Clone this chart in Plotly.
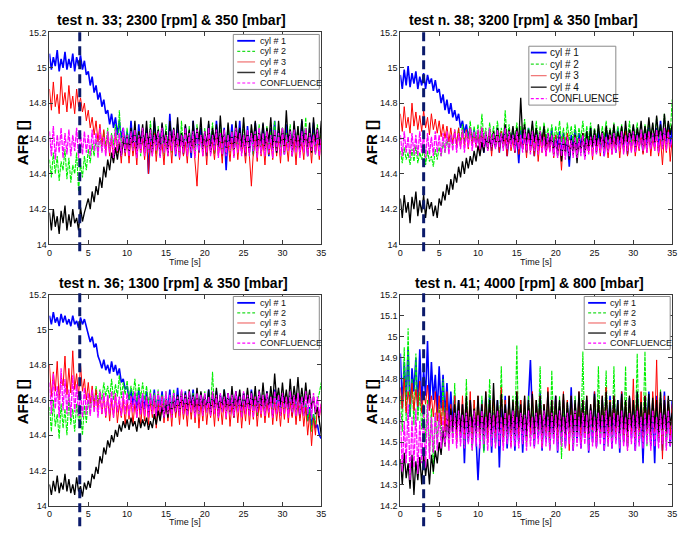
import plotly.graph_objects as go

# ---------------------------------------------------------------------------
# AFR per cylinder and at the confluence, sampled every 0.25 s over 0..35 s
# ---------------------------------------------------------------------------
TIME = [0.25 * i for i in range(141)]

# test n. 33 ; 2300 rpm & 350 mbar
T33_CYL1 = [
    15.08, 14.99, 15.06, 15.01, 15.10, 14.98, 15.05, 15.00, 15.09, 14.99,
    15.05, 15.00, 15.08, 14.98, 15.06, 15.01, 15.07, 14.99, 15.04, 14.96,
    14.98, 14.90, 14.95, 14.86, 14.90, 14.82, 14.86, 14.78, 14.82, 14.74,
    14.76, 14.68, 14.74, 14.66, 14.72, 14.62, 14.70, 14.60, 14.66, 14.56,
    14.64, 14.52, 14.70, 14.55, 14.66, 14.50, 14.68, 14.54, 14.62, 14.52,
    14.66, 14.40, 14.62, 14.53, 14.70, 14.55, 14.64, 14.50, 14.68, 14.56,
    14.62, 14.52, 14.74, 14.55, 14.65, 14.50, 14.68, 14.54, 14.63, 14.51,
    14.67, 14.55, 14.62, 14.49, 14.70, 14.56, 14.64, 14.52, 14.66, 14.55,
    14.62, 14.50, 14.68, 14.54, 14.65, 14.52, 14.70, 14.56, 14.61, 14.50,
    14.66, 14.42, 14.63, 14.55, 14.68, 14.52, 14.64, 14.55, 14.70, 14.53,
    14.62, 14.50, 14.67, 14.54, 14.64, 14.51, 14.69, 14.56, 14.63, 14.52,
    14.68, 14.55, 14.62, 14.50, 14.66, 14.54, 14.70, 14.52, 14.64, 14.56,
    14.63, 14.51, 14.68, 14.55, 14.65, 14.50, 14.67, 14.54, 14.62, 14.53,
    14.70, 14.55, 14.64, 14.50, 14.66, 14.56, 14.69, 14.52, 14.65, 14.55,
    14.62]
T33_CYL2 = [
    14.48, 14.38, 14.52, 14.40, 14.50, 14.36, 14.47, 14.42, 14.54, 14.37,
    14.49, 14.35, 14.45, 14.40, 14.52, 14.30, 14.46, 14.38, 14.50, 14.42,
    14.54, 14.46, 14.57, 14.50, 14.60, 14.52, 14.62, 14.53, 14.64, 14.55,
    14.66, 14.54, 14.63, 14.56, 14.68, 14.52, 14.76, 14.55, 14.64, 14.53,
    14.66, 14.55, 14.62, 14.52, 14.68, 14.56, 14.64, 14.50, 14.66, 14.55,
    14.62, 14.52, 14.70, 14.56, 14.64, 14.51, 14.67, 14.55, 14.63, 14.50,
    14.68, 14.55, 14.64, 14.52, 14.66, 14.56, 14.62, 14.50, 14.70, 14.54,
    14.63, 14.55, 14.67, 14.52, 14.64, 14.50, 14.68, 14.56, 14.62, 14.53,
    14.66, 14.52, 14.64, 14.56, 14.69, 14.51, 14.63, 14.55, 14.67, 14.53,
    14.62, 14.56, 14.68, 14.52, 14.64, 14.50, 14.66, 14.55, 14.63, 14.52,
    14.69, 14.55, 14.62, 14.53, 14.66, 14.50, 14.64, 14.56, 14.68, 14.52,
    14.63, 14.55, 14.67, 14.51, 14.64, 14.56, 14.70, 14.53, 14.62, 14.55,
    14.66, 14.52, 14.63, 14.56, 14.68, 14.50, 14.64, 14.55, 14.67, 14.53,
    14.62, 14.56, 14.72, 14.52, 14.65, 14.55, 14.63, 14.51, 14.68, 14.56,
    14.64]
T33_CYL3 = [
    14.88, 14.76, 14.92, 14.78, 14.85, 14.74, 14.95, 14.79, 14.86, 14.75,
    14.90, 14.77, 14.84, 14.74, 14.88, 14.78, 14.83, 14.75, 14.80, 14.70,
    14.76, 14.66, 14.72, 14.62, 14.70, 14.58, 14.68, 14.56, 14.65, 14.52,
    14.62, 14.50, 14.60, 14.47, 14.63, 14.52, 14.58, 14.46, 14.61, 14.50,
    14.60, 14.46, 14.62, 14.50, 14.58, 14.45, 14.64, 14.52, 14.60, 14.48,
    14.62, 14.40, 14.58, 14.50, 14.63, 14.47, 14.60, 14.52, 14.57, 14.45,
    14.62, 14.50, 14.60, 14.46, 14.64, 14.52, 14.58, 14.48, 14.61, 14.50,
    14.58, 14.46, 14.62, 14.52, 14.60, 14.47, 14.33, 14.55, 14.62, 14.50,
    14.60, 14.45, 14.63, 14.51, 14.58, 14.48, 14.62, 14.50, 14.59, 14.46,
    14.63, 14.52, 14.58, 14.47, 14.61, 14.50, 14.64, 14.48, 14.60, 14.52,
    14.58, 14.46, 14.62, 14.50, 14.33, 14.52, 14.60, 14.47, 14.63, 14.50,
    14.59, 14.45, 14.62, 14.51, 14.58, 14.48, 14.64, 14.50, 14.60, 14.46,
    14.62, 14.52, 14.58, 14.47, 14.63, 14.50, 14.60, 14.45, 14.62, 14.51,
    14.58, 14.48, 14.64, 14.50, 14.60, 14.46, 14.62, 14.52, 14.59, 14.48,
    14.62]
T33_CYL4 = [
    14.18, 14.08, 14.20, 14.10, 14.16, 14.06, 14.19, 14.12, 14.22, 14.08,
    14.17, 14.10, 14.20, 14.12, 14.15, 14.08, 14.21, 14.13, 14.18, 14.22,
    14.26, 14.20, 14.30, 14.24, 14.33, 14.28, 14.38, 14.32, 14.44, 14.38,
    14.48, 14.42, 14.52, 14.46, 14.55, 14.48, 14.57, 14.50, 14.60, 14.52,
    14.62, 14.52, 14.66, 14.55, 14.70, 14.54, 14.64, 14.58, 14.68, 14.55,
    14.70, 14.56, 14.66, 14.52, 14.72, 14.58, 14.65, 14.54, 14.69, 14.57,
    14.64, 14.52, 14.70, 14.58, 14.66, 14.55, 14.72, 14.56, 14.63, 14.54,
    14.68, 14.57, 14.65, 14.52, 14.70, 14.55, 14.66, 14.58, 14.72, 14.54,
    14.64, 14.56, 14.70, 14.52, 14.66, 14.58, 14.68, 14.55, 14.73, 14.57,
    14.65, 14.52, 14.69, 14.56, 14.64, 14.54, 14.70, 14.58, 14.66, 14.55,
    14.72, 14.56, 14.64, 14.52, 14.68, 14.58, 14.70, 14.55, 14.65, 14.57,
    14.69, 14.54, 14.66, 14.58, 14.72, 14.55, 14.64, 14.52, 14.70, 14.57,
    14.66, 14.55, 14.76, 14.58, 14.65, 14.53, 14.70, 14.56, 14.67, 14.54,
    14.71, 14.57, 14.65, 14.55, 14.69, 14.52, 14.72, 14.58, 14.66, 14.56,
    14.70]
T33_CONF = [
    14.64, 14.50, 14.67, 14.48, 14.62, 14.52, 14.66, 14.49, 14.63, 14.51,
    14.65, 14.50, 14.62, 14.53, 14.66, 14.49, 14.63, 14.51, 14.64, 14.52,
    14.62, 14.50, 14.65, 14.53, 14.63, 14.49, 14.66, 14.52, 14.61, 14.50,
    14.64, 14.52, 14.62, 14.49, 14.65, 14.53, 14.63, 14.50, 14.66, 14.52,
    14.62, 14.50, 14.64, 14.53, 14.65, 14.49, 14.62, 14.52, 14.66, 14.50,
    14.63, 14.52, 14.65, 14.50, 14.62, 14.53, 14.64, 14.49, 14.66, 14.52,
    14.62, 14.50, 14.64, 14.53, 14.65, 14.51, 14.63, 14.49, 14.62, 14.52,
    14.66, 14.50, 14.63, 14.52, 14.64, 14.49, 14.65, 14.53, 14.62, 14.50,
    14.64, 14.52, 14.66, 14.50, 14.62, 14.53, 14.65, 14.49, 14.63, 14.51,
    14.65, 14.50, 14.62, 14.53, 14.64, 14.49, 14.66, 14.52, 14.63, 14.50,
    14.62, 14.52, 14.65, 14.50, 14.63, 14.53, 14.64, 14.49, 14.66, 14.51,
    14.63, 14.50, 14.64, 14.52, 14.62, 14.49, 14.65, 14.53, 14.63, 14.50,
    14.66, 14.51, 14.62, 14.53, 14.64, 14.50, 14.65, 14.52, 14.62, 14.49,
    14.64, 14.52, 14.66, 14.50, 14.63, 14.53, 14.62, 14.51, 14.65, 14.50,
    14.60]

# test n. 38 ; 3200 rpm & 350 mbar
T38_CYL1 = [
    14.96, 14.88, 14.99, 14.90, 15.01, 14.89, 14.97, 14.91, 14.98, 14.88,
    14.95, 14.90, 14.97, 14.88, 14.96, 14.91, 14.94, 14.87, 14.93, 14.86,
    14.88, 14.80, 14.85, 14.76, 14.82, 14.74, 14.80, 14.72, 14.76, 14.70,
    14.74, 14.66, 14.70, 14.63, 14.68, 14.60, 14.66, 14.58, 14.65, 14.56,
    14.64, 14.55, 14.66, 14.52, 14.63, 14.56, 14.65, 14.53, 14.62, 14.55,
    14.66, 14.52, 14.63, 14.55, 14.67, 14.50, 14.62, 14.56, 14.64, 14.52,
    14.62, 14.46, 14.65, 14.54, 14.63, 14.52, 14.66, 14.55, 14.62, 14.50,
    14.64, 14.53, 14.62, 14.56, 14.65, 14.52, 14.63, 14.54, 14.66, 14.51,
    14.62, 14.55, 14.64, 14.50, 14.63, 14.53, 14.61, 14.44, 14.62, 14.54,
    14.65, 14.52, 14.63, 14.55, 14.62, 14.50, 14.64, 14.53, 14.66, 14.55,
    14.62, 14.52, 14.64, 14.55, 14.63, 14.50, 14.65, 14.53, 14.62, 14.56,
    14.64, 14.52, 14.66, 14.54, 14.62, 14.55, 14.65, 14.51, 14.63, 14.56,
    14.66, 14.53, 14.64, 14.56, 14.62, 14.52, 14.65, 14.55, 14.67, 14.54,
    14.63, 14.56, 14.66, 14.53, 14.70, 14.55, 14.64, 14.57, 14.68, 14.56,
    14.66]
T38_CYL2 = [
    14.53, 14.46, 14.55, 14.48, 14.52, 14.45, 14.54, 14.47, 14.56, 14.46,
    14.52, 14.48, 14.55, 14.45, 14.53, 14.47, 14.50, 14.44, 14.54, 14.48,
    14.55, 14.50, 14.58, 14.52, 14.60, 14.54, 14.62, 14.56, 14.64, 14.57,
    14.66, 14.57, 14.68, 14.58, 14.65, 14.60, 14.70, 14.57, 14.67, 14.59,
    14.68, 14.58, 14.74, 14.60, 14.66, 14.57, 14.69, 14.59, 14.67, 14.58,
    14.70, 14.60, 14.66, 14.57, 14.76, 14.59, 14.68, 14.58, 14.66, 14.60,
    14.69, 14.57, 14.67, 14.60, 14.71, 14.58, 14.66, 14.59, 14.68, 14.57,
    14.70, 14.59, 14.67, 14.57, 14.69, 14.60, 14.66, 14.58, 14.68, 14.57,
    14.67, 14.60, 14.70, 14.58, 14.66, 14.57, 14.69, 14.59, 14.67, 14.58,
    14.68, 14.57, 14.66, 14.60, 14.70, 14.58, 14.67, 14.59, 14.69, 14.57,
    14.66, 14.59, 14.68, 14.57, 14.67, 14.60, 14.70, 14.58, 14.66, 14.59,
    14.69, 14.57, 14.67, 14.60, 14.68, 14.58, 14.66, 14.59, 14.70, 14.57,
    14.67, 14.60, 14.69, 14.58, 14.66, 14.57, 14.68, 14.60, 14.70, 14.58,
    14.68, 14.59, 14.72, 14.60, 14.67, 14.58, 14.74, 14.60, 14.69, 14.62,
    14.82]
T38_CYL3 = [
    14.74, 14.64, 14.78, 14.66, 14.72, 14.63, 14.80, 14.67, 14.75, 14.65,
    14.73, 14.64, 14.76, 14.66, 14.72, 14.62, 14.74, 14.65, 14.71, 14.63,
    14.70, 14.61, 14.68, 14.60, 14.67, 14.58, 14.66, 14.57, 14.65, 14.56,
    14.66, 14.55, 14.64, 14.56, 14.65, 14.54, 14.66, 14.57, 14.63, 14.55,
    14.64, 14.52, 14.66, 14.55, 14.62, 14.53, 14.65, 14.50, 14.63, 14.55,
    14.62, 14.52, 14.64, 14.55, 14.61, 14.50, 14.63, 14.53, 14.60, 14.52,
    14.63, 14.51, 14.60, 14.54, 14.62, 14.49, 14.64, 14.52, 14.60, 14.50,
    14.62, 14.47, 14.60, 14.52, 14.63, 14.50, 14.59, 14.53, 14.61, 14.49,
    14.62, 14.52, 14.58, 14.42, 14.61, 14.50, 14.63, 14.53, 14.59, 14.51,
    14.62, 14.49, 14.60, 14.53, 14.63, 14.50, 14.58, 14.52, 14.61, 14.48,
    14.63, 14.52, 14.60, 14.50, 14.62, 14.53, 14.59, 14.49, 14.62, 14.51,
    14.60, 14.53, 14.63, 14.49, 14.61, 14.52, 14.64, 14.50, 14.60, 14.53,
    14.62, 14.50, 14.59, 14.53, 14.63, 14.51, 14.60, 14.52, 14.64, 14.50,
    14.61, 14.53, 14.63, 14.50, 14.60, 14.45, 14.62, 14.52, 14.65, 14.47,
    14.60]
T38_CYL4 = [
    14.26, 14.15, 14.28, 14.18, 14.24, 14.12, 14.27, 14.20, 14.30, 14.16,
    14.25, 14.18, 14.28, 14.15, 14.26, 14.20, 14.24, 14.16, 14.22, 14.15,
    14.26, 14.22, 14.30, 14.25, 14.34, 14.28, 14.37, 14.31, 14.40, 14.35,
    14.44, 14.38, 14.47, 14.40, 14.49, 14.43, 14.50, 14.45, 14.53, 14.47,
    14.56, 14.50, 14.58, 14.52, 14.62, 14.54, 14.60, 14.55, 14.64, 14.56,
    14.66, 14.56, 14.63, 14.58, 14.68, 14.56, 14.65, 14.59, 14.67, 14.57,
    14.66, 14.58, 14.83, 14.60, 14.68, 14.57, 14.65, 14.59, 14.70, 14.58,
    14.66, 14.57, 14.64, 14.59, 14.67, 14.55, 14.63, 14.56, 14.62, 14.53,
    14.60, 14.50, 14.62, 14.47, 14.58, 14.52, 14.61, 14.48, 14.60, 14.51,
    14.62, 14.46, 14.60, 14.52, 14.63, 14.50, 14.64, 14.54, 14.66, 14.55,
    14.65, 14.56, 14.68, 14.58, 14.64, 14.55, 14.67, 14.59, 14.65, 14.57,
    14.68, 14.56, 14.64, 14.59, 14.67, 14.57, 14.70, 14.58, 14.65, 14.60,
    14.68, 14.57, 14.66, 14.60, 14.70, 14.58, 14.67, 14.59, 14.72, 14.60,
    14.69, 14.58, 14.73, 14.61, 14.68, 14.59, 14.74, 14.60, 14.70, 14.62,
    14.68]
T38_CONF = [
    14.62, 14.50, 14.64, 14.52, 14.61, 14.49, 14.63, 14.51, 14.62, 14.50,
    14.64, 14.52, 14.62, 14.49, 14.63, 14.51, 14.61, 14.50, 14.64, 14.52,
    14.62, 14.50, 14.63, 14.52, 14.64, 14.51, 14.62, 14.53, 14.65, 14.52,
    14.63, 14.54, 14.65, 14.52, 14.64, 14.55, 14.66, 14.53, 14.64, 14.55,
    14.65, 14.54, 14.66, 14.55, 14.64, 14.53, 14.66, 14.55, 14.63, 14.54,
    14.65, 14.55, 14.63, 14.53, 14.66, 14.54, 14.64, 14.55, 14.62, 14.53,
    14.64, 14.54, 14.62, 14.52, 14.65, 14.53, 14.63, 14.51, 14.64, 14.53,
    14.62, 14.51, 14.64, 14.52, 14.61, 14.50, 14.63, 14.52, 14.62, 14.50,
    14.60, 14.49, 14.62, 14.50, 14.60, 14.48, 14.61, 14.50, 14.59, 14.49,
    14.61, 14.49, 14.60, 14.50, 14.62, 14.48, 14.60, 14.51, 14.61, 14.50,
    14.62, 14.51, 14.60, 14.52, 14.63, 14.50, 14.61, 14.52, 14.62, 14.51,
    14.63, 14.52, 14.61, 14.53, 14.64, 14.51, 14.62, 14.53, 14.63, 14.52,
    14.64, 14.52, 14.62, 14.54, 14.65, 14.53, 14.63, 14.52, 14.64, 14.54,
    14.63, 14.53, 14.65, 14.52, 14.64, 14.54, 14.66, 14.53, 14.64, 14.55,
    14.60]

# test n. 36 ; 1300 rpm & 350 mbar
T36_CYL1 = [
    15.08, 15.03, 15.10, 15.04, 15.07, 15.02, 15.09, 15.04, 15.08, 15.03,
    15.06, 15.02, 15.08, 15.03, 15.05, 15.01, 15.07, 15.03, 15.06, 15.02,
    14.98, 14.93, 14.96, 14.90, 14.92, 14.85, 14.82, 14.78, 14.83, 14.77,
    14.80, 14.75, 14.82, 14.76, 14.80, 14.74, 14.78, 14.70, 14.72, 14.66,
    14.68, 14.60, 14.66, 14.57, 14.64, 14.55, 14.66, 14.52, 14.63, 14.55,
    14.65, 14.52, 14.62, 14.55, 14.66, 14.51, 14.63, 14.54, 14.65, 14.52,
    14.62, 14.55, 14.66, 14.52, 14.64, 14.54, 14.67, 14.53, 14.62, 14.55,
    14.65, 14.52, 14.63, 14.55, 14.66, 14.51, 14.62, 14.54, 14.64, 14.52,
    14.63, 14.54, 14.66, 14.52, 14.62, 14.55, 14.65, 14.51, 14.63, 14.54,
    14.66, 14.52, 14.64, 14.55, 14.62, 14.50, 14.65, 14.54, 14.63, 14.52,
    14.64, 14.55, 14.62, 14.52, 14.66, 14.54, 14.63, 14.51, 14.65, 14.55,
    14.62, 14.52, 14.65, 14.54, 14.63, 14.51, 14.66, 14.55, 14.62, 14.52,
    14.64, 14.55, 14.62, 14.53, 14.65, 14.51, 14.63, 14.55, 14.60, 14.50,
    14.62, 14.52, 14.58, 14.48, 14.56, 14.45, 14.52, 14.44, 14.46, 14.40,
    14.38]
T36_CYL2 = [
    14.56, 14.42, 14.60, 14.45, 14.52, 14.38, 14.58, 14.44, 14.55, 14.40,
    14.62, 14.46, 14.55, 14.42, 14.58, 14.48, 14.53, 14.40, 14.57, 14.47,
    14.60, 14.52, 14.64, 14.56, 14.68, 14.58, 14.66, 14.60, 14.70, 14.62,
    14.68, 14.61, 14.72, 14.60, 14.69, 14.62, 14.74, 14.61, 14.70, 14.63,
    14.71, 14.60, 14.68, 14.62, 14.72, 14.59, 14.69, 14.61, 14.70, 14.60,
    14.68, 14.58, 14.66, 14.55, 14.64, 14.56, 14.66, 14.53, 14.63, 14.55,
    14.65, 14.53, 14.62, 14.55, 14.66, 14.52, 14.63, 14.54, 14.65, 14.52,
    14.62, 14.55, 14.66, 14.52, 14.64, 14.54, 14.62, 14.51, 14.63, 14.55,
    14.65, 14.53, 14.62, 14.55, 14.76, 14.54, 14.64, 14.52, 14.62, 14.55,
    14.66, 14.52, 14.63, 14.54, 14.65, 14.51, 14.62, 14.55, 14.64, 14.53,
    14.62, 14.55, 14.66, 14.52, 14.63, 14.54, 14.65, 14.51, 14.62, 14.55,
    14.64, 14.52, 14.62, 14.55, 14.66, 14.53, 14.63, 14.54, 14.65, 14.52,
    14.62, 14.55, 14.64, 14.52, 14.63, 14.54, 14.66, 14.51, 14.62, 14.55,
    14.63, 14.52, 14.58, 14.48, 14.55, 14.42, 14.52, 14.46, 14.60, 14.64,
    14.70]
T36_CYL3 = [
    14.80, 14.62, 14.76, 14.65, 14.82, 14.60, 14.74, 14.68, 14.85, 14.63,
    14.78, 14.64, 14.88, 14.66, 14.75, 14.62, 14.80, 14.65, 14.72, 14.60,
    14.70, 14.58, 14.68, 14.56, 14.66, 14.54, 14.64, 14.52, 14.62, 14.50,
    14.62, 14.48, 14.60, 14.50, 14.63, 14.47, 14.58, 14.50, 14.61, 14.46,
    14.60, 14.49, 14.62, 14.46, 14.58, 14.50, 14.61, 14.45, 14.60, 14.48,
    14.62, 14.46, 14.59, 14.50, 14.61, 14.44, 14.58, 14.49, 14.62, 14.47,
    14.60, 14.48, 14.58, 14.45, 14.62, 14.50, 14.59, 14.46, 14.61, 14.49,
    14.58, 14.45, 14.61, 14.49, 14.60, 14.47, 14.62, 14.44, 14.59, 14.48,
    14.61, 14.46, 14.58, 14.50, 14.60, 14.45, 14.62, 14.48, 14.59, 14.46,
    14.60, 14.49, 14.62, 14.45, 14.58, 14.50, 14.61, 14.47, 14.60, 14.44,
    14.58, 14.48, 14.61, 14.46, 14.60, 14.49, 14.62, 14.45, 14.58, 14.50,
    14.61, 14.47, 14.59, 14.50, 14.62, 14.46, 14.60, 14.48, 14.58, 14.45,
    14.60, 14.49, 14.62, 14.47, 14.59, 14.50, 14.61, 14.46, 14.60, 14.48,
    14.58, 14.45, 14.56, 14.40, 14.52, 14.34, 14.50, 14.40, 14.56, 14.50,
    14.58]
T36_CYL4 = [
    14.12, 14.06, 14.14, 14.08, 14.17, 14.07, 14.13, 14.09, 14.18, 14.08,
    14.15, 14.07, 14.12, 14.06, 14.16, 14.08, 14.11, 14.05, 14.13, 14.09,
    14.14, 14.10, 14.18, 14.15, 14.22, 14.18, 14.28, 14.24, 14.33, 14.29,
    14.37, 14.33, 14.40, 14.36, 14.43, 14.39, 14.46, 14.42, 14.48, 14.44,
    14.49, 14.43, 14.50, 14.45, 14.48, 14.42, 14.50, 14.44, 14.49, 14.45,
    14.50, 14.43, 14.48, 14.44, 14.52, 14.46, 14.54, 14.48, 14.56, 14.50,
    14.58, 14.50, 14.60, 14.52, 14.62, 14.53, 14.63, 14.54, 14.65, 14.55,
    14.64, 14.54, 14.66, 14.56, 14.63, 14.55, 14.67, 14.54, 14.65, 14.56,
    14.63, 14.55, 14.66, 14.53, 14.64, 14.56, 14.67, 14.54, 14.63, 14.55,
    14.66, 14.56, 14.64, 14.53, 14.68, 14.55, 14.65, 14.57, 14.66, 14.54,
    14.64, 14.56, 14.67, 14.55, 14.65, 14.57, 14.68, 14.54, 14.66, 14.56,
    14.70, 14.57, 14.65, 14.56, 14.68, 14.58, 14.75, 14.60, 14.67, 14.57,
    14.70, 14.58, 14.66, 14.56, 14.72, 14.57, 14.68, 14.59, 14.73, 14.58,
    14.67, 14.57, 14.70, 14.58, 14.66, 14.55, 14.62, 14.52, 14.56, 14.48,
    14.40]
T36_CONF = [
    14.70, 14.52, 14.75, 14.55, 14.68, 14.50, 14.78, 14.54, 14.72, 14.52,
    14.66, 14.50, 14.74, 14.53, 14.69, 14.51, 14.65, 14.50, 14.67, 14.52,
    14.64, 14.51, 14.66, 14.53, 14.63, 14.50, 14.65, 14.52, 14.64, 14.51,
    14.63, 14.52, 14.65, 14.50, 14.64, 14.53, 14.62, 14.51, 14.65, 14.52,
    14.64, 14.51, 14.62, 14.53, 14.65, 14.50, 14.63, 14.52, 14.64, 14.51,
    14.62, 14.50, 14.64, 14.52, 14.63, 14.51, 14.65, 14.53, 14.62, 14.50,
    14.65, 14.52, 14.63, 14.50, 14.64, 14.53, 14.62, 14.51, 14.66, 14.52,
    14.63, 14.51, 14.65, 14.53, 14.62, 14.50, 14.64, 14.52, 14.63, 14.51,
    14.64, 14.53, 14.62, 14.51, 14.65, 14.52, 14.63, 14.50, 14.64, 14.53,
    14.62, 14.50, 14.64, 14.52, 14.63, 14.51, 14.65, 14.53, 14.62, 14.50,
    14.65, 14.52, 14.63, 14.51, 14.64, 14.50, 14.62, 14.53, 14.65, 14.52,
    14.63, 14.51, 14.64, 14.53, 14.62, 14.50, 14.65, 14.52, 14.63, 14.51,
    14.64, 14.52, 14.62, 14.50, 14.65, 14.53, 14.63, 14.51, 14.64, 14.52,
    14.62, 14.51, 14.65, 14.52, 14.63, 14.50, 14.64, 14.53, 14.62, 14.51,
    14.58]

# test n. 41 ; 4000 rpm & 800 mbar
T41_CYL1 = [
    14.92, 14.66, 14.88, 14.70, 14.95, 14.62, 14.85, 14.74, 14.90, 14.65,
    14.94, 14.68, 14.84, 14.72, 14.98, 14.66, 14.88, 14.70, 14.82, 14.64,
    14.86, 14.66, 14.82, 14.62, 14.78, 14.60, 14.74, 14.58, 14.72, 14.55,
    14.70, 14.52, 14.68, 14.40, 14.66, 14.50, 14.70, 14.48, 14.65, 14.52,
    14.32, 14.55, 14.70, 14.46, 14.66, 14.52, 14.72, 14.45, 14.64, 14.50,
    14.70, 14.38, 14.66, 14.50, 14.72, 14.47, 14.65, 14.52, 14.68, 14.46,
    14.66, 14.50, 14.70, 14.45, 14.64, 14.52, 14.72, 14.89, 14.62, 14.48,
    14.68, 14.52, 14.74, 14.46, 14.65, 14.50, 14.70, 14.47, 14.66, 14.52,
    14.72, 14.45, 14.66, 14.50, 14.70, 14.48, 14.64, 14.52, 14.76, 14.46,
    14.68, 14.50, 14.71, 14.47, 14.65, 14.52, 14.70, 14.45, 14.66, 14.50,
    14.74, 14.48, 14.66, 14.52, 14.70, 14.46, 14.64, 14.50, 14.72, 14.47,
    14.66, 14.51, 14.70, 14.45, 14.74, 14.50, 14.65, 14.48, 14.71, 14.52,
    14.68, 14.46, 14.74, 14.50, 14.66, 14.40, 14.70, 14.52, 14.74, 14.48,
    14.66, 14.40, 14.72, 14.50, 14.68, 14.46, 14.74, 14.52, 14.66, 14.48,
    14.70]
T41_CYL2 = [
    14.72, 14.55, 14.95, 14.60, 15.04, 14.62, 14.80, 14.58, 14.92, 14.60,
    14.74, 14.56, 14.68, 14.50, 14.70, 14.45, 14.66, 14.35, 14.64, 14.50,
    14.68, 14.52, 14.80, 14.55, 14.70, 14.48, 14.66, 14.52, 14.78, 14.50,
    14.70, 14.55, 14.66, 14.48, 14.80, 14.52, 14.68, 14.46, 14.70, 14.55,
    14.66, 14.50, 14.72, 14.45, 14.68, 14.55, 14.80, 14.52, 14.70, 14.48,
    14.68, 14.55, 14.86, 14.50, 14.70, 14.52, 14.66, 14.48, 14.72, 14.55,
    14.96, 14.50, 14.70, 14.55, 14.66, 14.48, 14.72, 14.52, 14.68, 14.50,
    14.70, 14.55, 14.86, 14.48, 14.68, 14.52, 14.72, 14.46, 14.84, 14.55,
    14.66, 14.50, 14.72, 14.42, 14.68, 14.55, 14.70, 14.52, 14.66, 14.48,
    14.72, 14.55, 14.68, 14.50, 14.93, 14.52, 14.70, 14.48, 14.66, 14.55,
    14.72, 14.50, 14.86, 14.52, 14.68, 14.55, 14.84, 14.48, 14.70, 14.52,
    14.86, 14.55, 14.68, 14.50, 14.72, 14.52, 14.86, 14.48, 14.66, 14.55,
    14.70, 14.52, 14.92, 14.50, 14.68, 14.55, 14.93, 14.48, 14.70, 14.52,
    14.72, 14.55, 14.66, 14.50, 14.75, 14.52, 14.68, 14.48, 14.70, 14.55,
    14.66]
T41_CYL3 = [
    14.76, 14.66, 14.80, 14.64, 14.74, 14.68, 14.78, 14.65, 14.75, 14.67,
    14.79, 14.64, 14.74, 14.68, 14.77, 14.65, 14.72, 14.62, 14.74, 14.60,
    14.72, 14.58, 14.70, 14.55, 14.74, 14.52, 14.68, 14.56, 14.72, 14.50,
    14.70, 14.54, 14.72, 14.52, 14.68, 14.56, 14.74, 14.50, 14.70, 14.55,
    14.72, 14.52, 14.68, 14.56, 14.74, 14.50, 14.70, 14.54, 14.72, 14.52,
    14.68, 14.55, 14.76, 14.50, 14.70, 14.54, 14.72, 14.48, 14.69, 14.55,
    14.74, 14.52, 14.70, 14.55, 14.72, 14.50, 14.68, 14.54, 14.74, 14.52,
    14.70, 14.56, 14.72, 14.48, 14.68, 14.54, 14.76, 14.52, 14.70, 14.55,
    14.72, 14.50, 14.68, 14.55, 14.74, 14.52, 14.70, 14.46, 14.72, 14.54,
    14.68, 14.55, 14.74, 14.50, 14.70, 14.54, 14.72, 14.52, 14.68, 14.56,
    14.74, 14.48, 14.70, 14.55, 14.72, 14.52, 14.76, 14.50, 14.70, 14.54,
    14.72, 14.52, 14.68, 14.55, 14.74, 14.50, 14.70, 14.46, 14.72, 14.54,
    14.80, 14.52, 14.70, 14.55, 14.74, 14.50, 14.72, 14.54, 14.68, 14.52,
    14.74, 14.55, 14.89, 14.50, 14.70, 14.42, 14.72, 14.54, 14.70, 14.52,
    14.68]
T41_CYL4 = [
    14.42, 14.30, 14.45, 14.33, 14.40, 14.28, 14.44, 14.25, 14.41, 14.32,
    14.43, 14.30, 14.45, 14.34, 14.42, 14.30, 14.44, 14.36, 14.46, 14.40,
    14.50, 14.44, 14.56, 14.48, 14.62, 14.52, 14.66, 14.55, 14.68, 14.56,
    14.70, 14.55, 14.68, 14.56, 14.72, 14.52, 14.70, 14.57, 14.66, 14.54,
    14.72, 14.56, 14.68, 14.53, 14.74, 14.57, 14.70, 14.54, 14.78, 14.56,
    14.70, 14.55, 14.73, 14.57, 14.68, 14.54, 14.72, 14.56, 14.70, 14.53,
    14.74, 14.57, 14.68, 14.55, 14.72, 14.53, 14.70, 14.57, 14.73, 14.54,
    14.70, 14.56, 14.72, 14.54, 14.68, 14.57, 14.74, 14.55, 14.70, 14.53,
    14.72, 14.57, 14.70, 14.55, 14.73, 14.54, 14.69, 14.57, 14.72, 14.55,
    14.70, 14.53, 14.74, 14.57, 14.70, 14.55, 14.72, 14.54, 14.68, 14.57,
    14.73, 14.55, 14.70, 14.56, 14.72, 14.54, 14.74, 14.57, 14.69, 14.55,
    14.72, 14.57, 14.70, 14.54, 14.73, 14.56, 14.70, 14.55, 14.72, 14.57,
    14.70, 14.55, 14.74, 14.57, 14.69, 14.54, 14.72, 14.56, 14.73, 14.55,
    14.71, 14.57, 14.70, 14.54, 14.74, 14.56, 14.70, 14.55, 14.72, 14.58,
    14.64]
T41_CONF = [
    14.64, 14.36, 14.60, 14.40, 14.68, 14.32, 14.62, 14.38, 14.66, 14.35,
    14.60, 14.40, 14.64, 14.38, 14.68, 14.42, 14.62, 14.45, 14.64, 14.46,
    14.64, 14.47, 14.62, 14.48, 14.65, 14.46, 14.63, 14.49, 14.64, 14.47,
    14.65, 14.48, 14.63, 14.47, 14.64, 14.49, 14.62, 14.46, 14.65, 14.48,
    14.63, 14.47, 14.65, 14.49, 14.62, 14.46, 14.64, 14.48, 14.63, 14.47,
    14.65, 14.48, 14.62, 14.46, 14.64, 14.49, 14.63, 14.47, 14.65, 14.48,
    14.62, 14.47, 14.64, 14.49, 14.63, 14.46, 14.65, 14.48, 14.62, 14.47,
    14.64, 14.49, 14.63, 14.47, 14.65, 14.48, 14.62, 14.46, 14.64, 14.49,
    14.63, 14.46, 14.65, 14.48, 14.62, 14.47, 14.64, 14.49, 14.63, 14.46,
    14.65, 14.48, 14.62, 14.47, 14.64, 14.49, 14.63, 14.46, 14.65, 14.48,
    14.62, 14.47, 14.64, 14.49, 14.63, 14.46, 14.65, 14.48, 14.62, 14.47,
    14.64, 14.49, 14.63, 14.47, 14.65, 14.48, 14.62, 14.46, 14.64, 14.49,
    14.63, 14.46, 14.65, 14.48, 14.62, 14.47, 14.64, 14.49, 14.63, 14.46,
    14.65, 14.48, 14.62, 14.47, 14.64, 14.49, 14.63, 14.46, 14.65, 14.48,
    14.58]

SERIES_NAMES = ["cyl # 1", "cyl # 2", "cyl # 3", "cyl # 4", "CONFLUENCE"]
PANEL_TITLES = [
    "test n. 33; 2300 [rpm] & 350 [mbar]",
    "test n. 38; 3200 [rpm] & 350 [mbar]",
    "test n. 36; 1300 [rpm] & 350 [mbar]",
    "test n. 41; 4000 [rpm] & 800 [mbar]",
]
PANEL_DATA = [
    [T33_CYL1, T33_CYL2, T33_CYL3, T33_CYL4, T33_CONF],
    [T38_CYL1, T38_CYL2, T38_CYL3, T38_CYL4, T38_CONF],
    [T36_CYL1, T36_CYL2, T36_CYL3, T36_CYL4, T36_CONF],
    [T41_CYL1, T41_CYL2, T41_CYL3, T41_CYL4, T41_CONF],
]
# instant of the step (vertical dashed marker), seconds
STEP_TIME = [3.9, 3.0, 3.9, 3.0]

X_TICKS = [0, 5, 10, 15, 20, 25, 30, 35]
X_TICK_TEXT = ["0", "5", "10", "15", "20", "25", "30", "35"]
Y_TICKS_A = [14.0, 14.2, 14.4, 14.6, 14.8, 15.0, 15.2]
Y_TICK_TEXT_A = ["14", "14.2", "14.4", "14.6", "14.8", "15", "15.2"]
Y_TICKS_B = [14.2, 14.3, 14.4, 14.5, 14.6, 14.7, 14.8, 14.9, 15.0, 15.1, 15.2]
Y_TICK_TEXT_B = ["14.2", "14.3", "14.4", "14.5", "14.6", "14.7", "14.8",
                 "14.9", "15", "15.1", "15.2"]

# ---------------------------------------------------------------------------
# page geometry (pixels) and styling
# ---------------------------------------------------------------------------
W, H = 691, 538
FONT = "Liberation Sans, Arial, sans-serif"

STYLES = [
    dict(color="#0000ff", width=1.6, dash="solid"),
    dict(color="#00f000", width=1.1, dash="4px,1px"),
    dict(color="#ff0000", width=1.0, dash="solid"),
    dict(color="#000000", width=1.3, dash="solid"),
    dict(color="#ff00ff", width=1.3, dash="5px,1px"),
]
LEGEND_STYLES = [
    dict(color="#0000ff", width=1.8, dash="solid"),
    dict(color="#22dd22", width=1.2, dash="3px,2px"),
    dict(color="#f07070", width=1.2, dash="solid"),
    dict(color="#333333", width=1.5, dash="solid"),
    dict(color="#ff00ff", width=1.2, dash="3px,2px"),
]

PANELS = [
    dict(plot=(47, 28, 322, 244), title=(170, 15), ylab=(20, 140), xlab=(184, 262),
         dash=(23, 251), legend=(233, 30, 320, 86), lx=(237, 255, 258), lfont=9,
         yticks=(Y_TICKS_A, Y_TICK_TEXT_A), yrange=(14.0, 15.2)),
    dict(plot=(402, 28, 677, 244), title=(527, 15), ylab=(373, 140), xlab=(539, 262),
         dash=(23, 251), legend=(532, 42, 620, 102), lx=(534, 550, 551), lfont=10,
         yticks=(Y_TICKS_A, Y_TICK_TEXT_A), yrange=(14.0, 15.2)),
    dict(plot=(47, 295, 322, 510), title=(172, 283), ylab=(20, 404), xlab=(184, 527),
         dash=(290, 531), legend=(233, 297, 320, 351), lx=(237, 255, 258), lfont=9,
         yticks=(Y_TICKS_A, Y_TICK_TEXT_A), yrange=(14.0, 15.2)),
    dict(plot=(402, 295, 677, 510), title=(533, 283), ylab=(373, 404), xlab=(539, 527),
         dash=(290, 531), legend=(588, 297, 675, 351), lx=(592, 610, 612), lfont=9,
         yticks=(Y_TICKS_B, Y_TICK_TEXT_B), yrange=(14.2, 15.2)),
]


def px(x):
    return x / W


def py(y):
    return 1 - y / H


fig = go.Figure()
shapes = []
annotations = []

for k, (panel, series) in enumerate(zip(PANELS, PANEL_DATA)):
    ax = "" if k == 0 else str(k + 1)
    xref, yref = "x" + ax, "y" + ax

    for name, vals, st in zip(SERIES_NAMES, series, STYLES):
        fig.add_trace(go.Scatter(
            x=TIME[:len(vals)], y=vals, mode="lines", name=name,
            line=dict(color=st["color"], width=st["width"], dash=st["dash"]),
            xaxis=xref, yaxis=yref, showlegend=False, hoverinfo="skip",
        ))

    x0, y0, x1, y1 = panel["plot"]
    axis_common = dict(
        showline=True, linecolor="#3a3a3a", linewidth=1, mirror="ticks",
        ticks="inside", ticklen=4, tickwidth=1, tickcolor="#3a3a3a",
        showgrid=False, zeroline=False,
        tickfont=dict(family=FONT, size=9, color="#111111"),
    )
    fig.update_layout(**{
        "xaxis" + ax: dict(axis_common, domain=[px(x0), px(x1)], range=[0, 35],
                           anchor=yref, tickvals=X_TICKS, ticktext=X_TICK_TEXT),
        "yaxis" + ax: dict(axis_common, domain=[py(y1), py(y0)],
                           range=list(panel["yrange"]), anchor=xref,
                           tickvals=panel["yticks"][0], ticktext=panel["yticks"][1],
                           ticklabelstandoff=0),
    })

    # step marker
    shapes.append(dict(type="line", xref=xref, yref="paper",
                       x0=STEP_TIME[k], x1=STEP_TIME[k],
                       y0=py(panel["dash"][1]), y1=py(panel["dash"][0]),
                       line=dict(color="#0b1a6b", width=3, dash="9px,5px"),
                       layer="above"))

    # titles and axis labels
    annotations.append(dict(text=PANEL_TITLES[k], x=px(panel["title"][0]), y=py(panel["title"][1]),
                            xref="paper", yref="paper", showarrow=False,
                            xanchor="center", yanchor="middle",
                            font=dict(family=FONT, size=14, color="#000000", weight="bold")))
    annotations.append(dict(text="AFR []", x=px(panel["ylab"][0]), y=py(panel["ylab"][1]),
                            xref="paper", yref="paper", showarrow=False, textangle=-90,
                            xanchor="center", yanchor="middle",
                            font=dict(family=FONT, size=15, color="#000000", weight="bold")))
    annotations.append(dict(text="Time [s]", x=px(panel["xlab"][0]), y=py(panel["xlab"][1]),
                            xref="paper", yref="paper", showarrow=False,
                            xanchor="center", yanchor="middle",
                            font=dict(family=FONT, size=9, color="#111111")))

    # legend box
    bx0, by0, bx1, by1 = panel["legend"]
    shapes.append(dict(type="rect", xref="paper", yref="paper",
                       x0=px(bx0), x1=px(bx1), y0=py(by1), y1=py(by0),
                       line=dict(color="#8a8a8a", width=1), fillcolor="#ffffff",
                       layer="above"))
    sx0, sx1, tx = panel["lx"]
    step = (by1 - by0 - 13) / 4
    for j, (name, st) in enumerate(zip(SERIES_NAMES, LEGEND_STYLES)):
        ry = by0 + 6.5 + j * step
        shapes.append(dict(type="line", xref="paper", yref="paper",
                           x0=px(sx0), x1=px(sx1), y0=py(ry), y1=py(ry),
                           line=dict(color=st["color"], width=st["width"], dash=st["dash"]),
                           layer="above"))
        annotations.append(dict(text=name, x=px(tx), y=py(ry), xref="paper", yref="paper",
                                showarrow=False, xanchor="left", yanchor="middle",
                                font=dict(family=FONT, size=panel["lfont"], color="#111111")))

fig.update_layout(
    width=W, height=H, autosize=False,
    margin=dict(l=0, r=0, t=0, b=0),
    paper_bgcolor="#ffffff", plot_bgcolor="#ffffff",
    shapes=shapes, annotations=annotations, showlegend=False,
)

fig.write_html("out.html")
